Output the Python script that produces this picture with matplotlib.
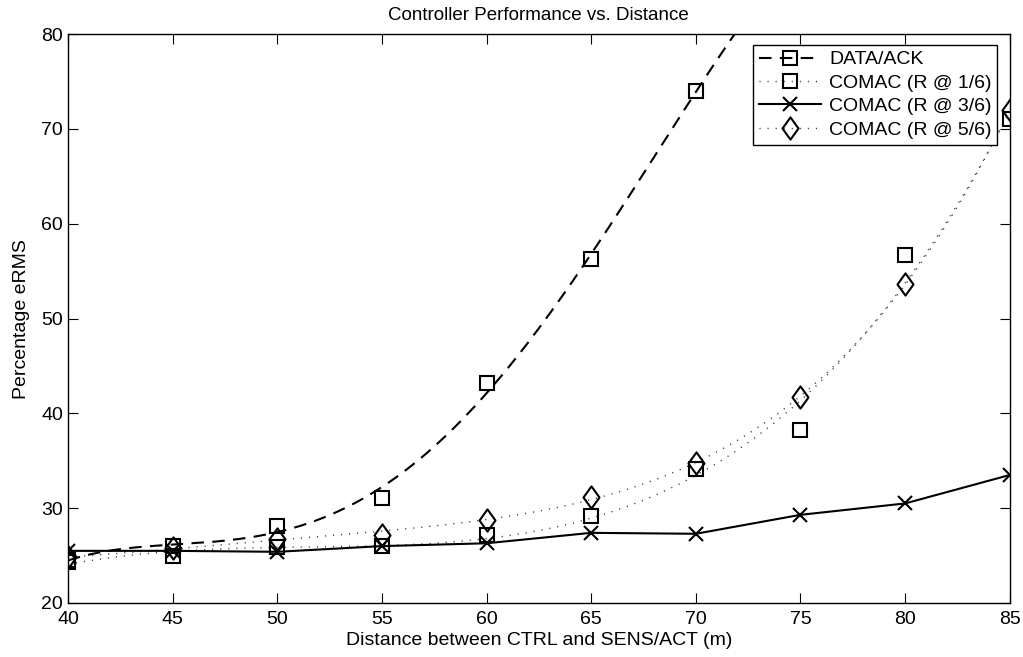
import numpy as np
import matplotlib
matplotlib.use("Agg")
import matplotlib.pyplot as plt
from matplotlib.path import Path

plt.rcParams['font.family'] = ['Liberation Sans', 'DejaVu Sans']

distance = [40, 45, 50, 55, 60, 65, 70, 75, 80, 85]
data_ack_x = [40, 45, 50, 55, 60, 65, 70]
data_ack = [24.5, 26.0, 28.1, 31.1, 43.2, 56.3, 74.0]
comac_16 = [24.3, 25.0, 25.9, 26.0, 27.2, 29.2, 34.1, 38.2, 56.7, 71.0]
comac_36 = [25.5, 25.5, 25.4, 26.0, 26.3, 27.4, 27.3, 29.3, 30.5, 33.5]
comac_56 = [24.8, 25.8, 26.8, 27.2, 28.8, 31.2, 34.8, 41.7, 53.6, 72.0]

labels = ['DATA/ACK', 'COMAC (R @ 1/6)', 'COMAC (R @ 3/6)', 'COMAC (R @ 5/6)']
xticks = list(range(40, 90, 5))
yticks = list(range(20, 90, 10))


def trend(x, y, deg=4, end=None):
    """Least-squares polynomial trend of the measured points."""
    x = np.asarray(x, float)
    xs = np.linspace(x[0], x[-1] if end is None else end, 400)
    return xs, np.polyval(np.polyfit(x, y, deg), xs)


# tall, narrow diamond marker
diamond = Path([(-0.72, 0), (0, 1), (0.72, 0), (0, -1), (-0.72, 0)],
               [Path.MOVETO, Path.LINETO, Path.LINETO, Path.LINETO, Path.CLOSEPOLY])

fig = plt.figure(figsize=(10.23, 6.57), dpi=100)
ax = fig.add_axes([0.0665, 0.0822, 0.9205, 0.8658])

mk = dict(markerfacecolor='none', markeredgecolor='black', markeredgewidth=1.5)
dash = (0, (6, 4))
dot = (0, (0.8, 5.0))
dot_color = '#333333'

ax.plot(*trend(data_ack_x, data_ack, 4, end=75), color='black', ls=dash, lw=1.5)
ax.plot(*trend(distance, comac_16, 4), color=dot_color, ls=dot, lw=1.0)
ax.plot(*trend(distance, comac_56, 4), color=dot_color, ls=dot, lw=1.0)

ax.plot(data_ack_x, data_ack, ls='none', marker='s', ms=10, **mk)
ax.plot(distance, comac_16, ls='none', marker='s', ms=10, **mk)
ax.plot(distance, comac_36, color='black', ls='-', lw=1.5, marker='x', ms=10, **mk)
ax.plot(distance, comac_56, ls='none', marker=diamond, ms=16, **mk)

# legend entries: line style with the series marker in the middle
h1, = ax.plot([], [], color='black', ls=dash, lw=1.5, marker='s', ms=10, **mk)
h2, = ax.plot([], [], color=dot_color, ls=dot, lw=1.0, marker='s', ms=10, **mk)
h3, = ax.plot([], [], color='black', ls='-', lw=1.5, marker='x', ms=10, **mk)
h4, = ax.plot([], [], color=dot_color, ls=dot, lw=1.0, marker=diamond, ms=16, **mk)
leg = ax.legend([h1, h2, h3, h4], labels,
                loc='upper right', bbox_to_anchor=(0.987, 0.981), fontsize=14,
                frameon=True, fancybox=False, edgecolor='black', framealpha=1,
                handlelength=3.2, borderpad=0.3, labelspacing=0.3, handletextpad=0.4,
                borderaxespad=0.0)
leg.get_frame().set_linewidth(1.0)

ax.set_xlim(40, 85)
ax.set_ylim(20, 80)
ax.set_xticks(xticks)
ax.set_yticks(yticks)
ax.tick_params(direction='in', top=True, right=True, length=7, width=0.8, labelsize=14)
ax.tick_params(axis='x', pad=6)
for s in ax.spines.values():
    s.set_linewidth(1.0)

ax.set_title('Controller Performance vs. Distance', fontsize=13.5, pad=10)
ax.set_xlabel('Distance between CTRL and SENS/ACT (m)', fontsize=14, labelpad=3)
ax.set_ylabel('Percentage eRMS', fontsize=14, labelpad=8)

fig.savefig('out.png', dpi=100)
